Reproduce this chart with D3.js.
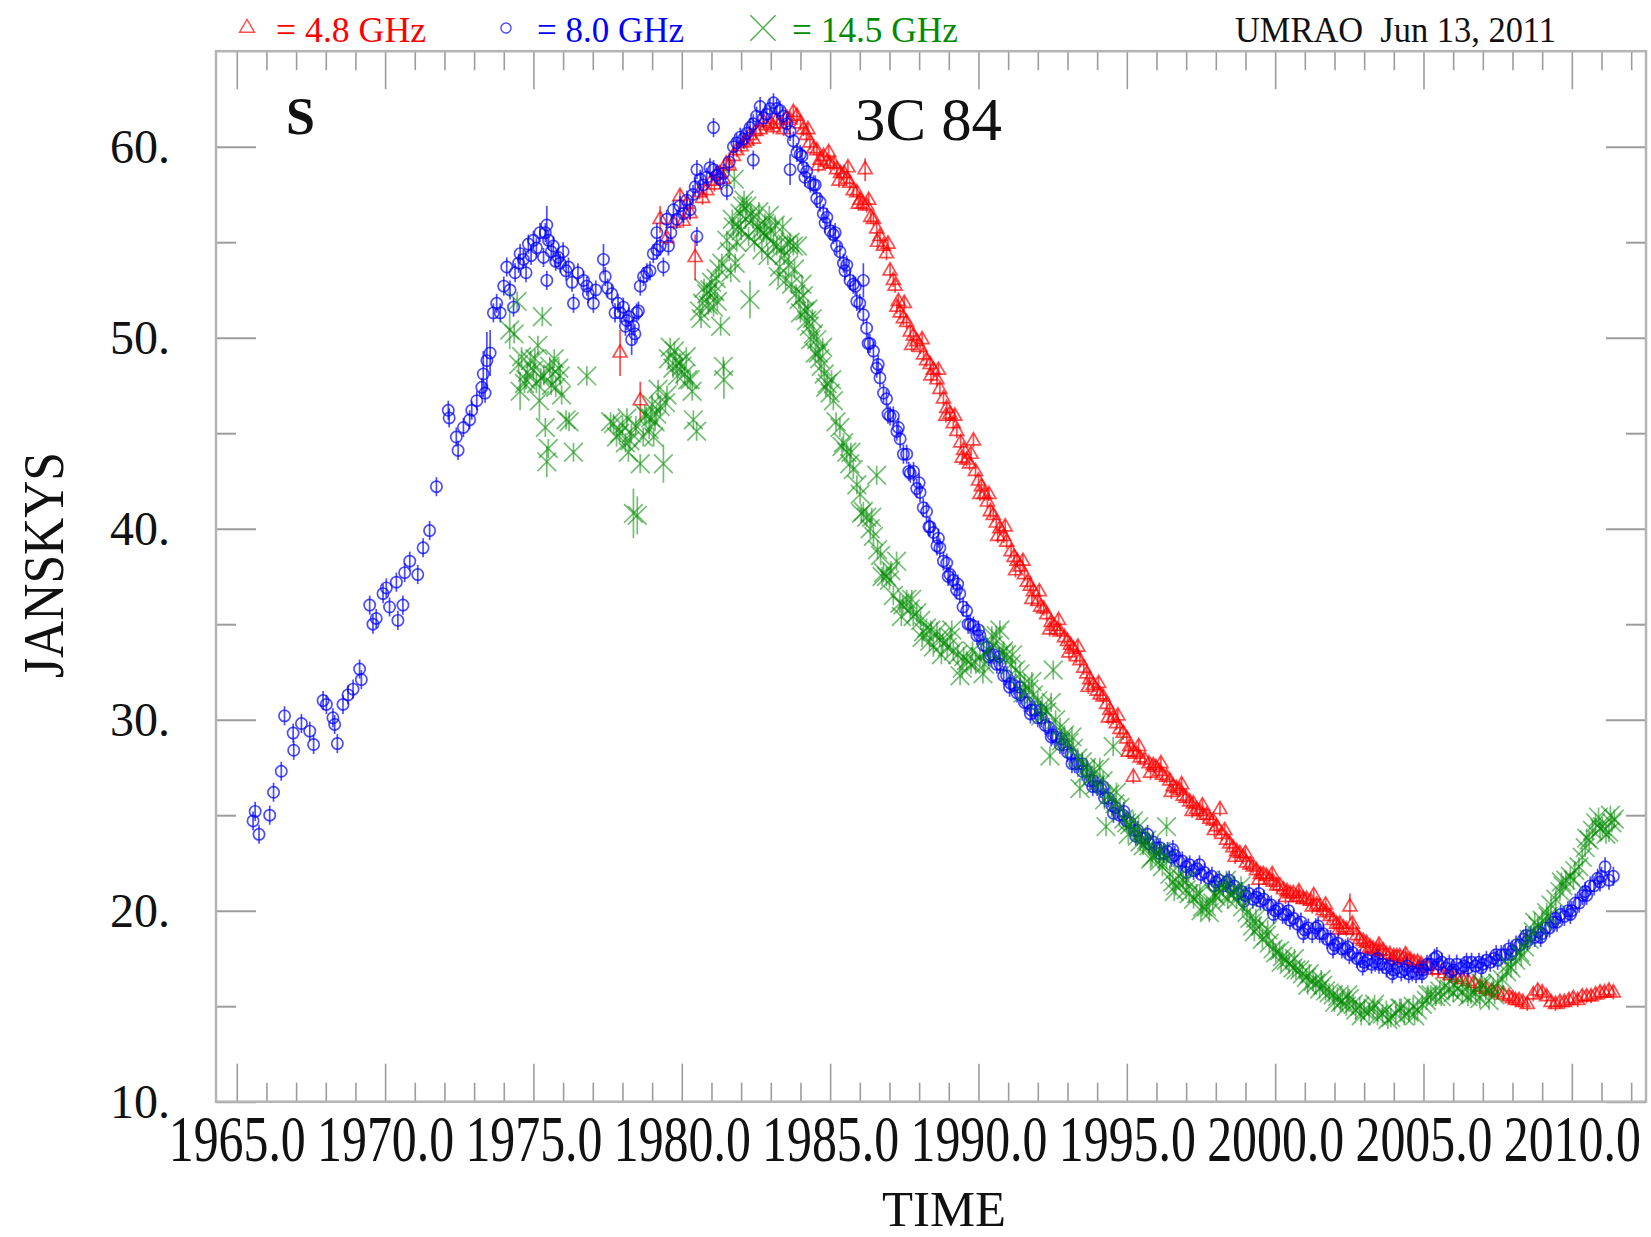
<!DOCTYPE html>
<html>
<head>
<meta charset="utf-8">
<script src="https://cdn.jsdelivr.net/npm/d3@7"></script>
<style>
  html, body { margin: 0; padding: 0; background: #fff; }
  svg { display: block; }
</style>
</head>
<body>
<svg id="chart" width="1651" height="1237"></svg>
<script>
// 3C 84 total flux density monitoring (UMRAO).
// Each entry: [decimal year, flux density in Jy, optional 1-sigma error in Jy]

// 4.8 GHz
const band48 = [
  [1977.92,49.2,1.2],[1978.6,46.7,1.0],[1979.27,56.2,0.7],[1979.5,55.2],[1979.72,56.0],[1979.94,57.4],
  [1980.05,56.1],[1980.17,57.0],[1980.28,56.5],[1980.45,54.2,1.2],[1980.6,57.6],[1980.7,57.3],[1980.84,57.7],
  [1981.0,58.2],[1981.1,58.0],[1981.2,58.6],[1981.29,58.6],[1981.4,58.3],[1981.5,59.1],[1981.6,59.0],
  [1981.74,59.5],[1981.85,59.8],[1982.0,60.0],[1982.1,60.2],[1982.19,60.3],[1982.3,60.6],[1982.41,60.4],
  [1982.5,60.8],[1982.64,60.9],[1982.75,61.3],[1982.86,61.1],[1983.0,61.2],[1983.09,61.0],[1983.2,61.4],
  [1983.31,61.2],[1983.43,60.9],[1983.54,61.5],[1983.65,61.4],[1983.76,61.8],[1983.88,61.6],[1984.0,61.2],
  [1984.1,60.9],[1984.2,60.6],[1984.32,60.2],[1984.45,59.9],[1984.55,59.8],[1984.66,59.3],[1984.78,59.5],
  [1984.9,59.2],[1985.0,59.1],[1985.13,59.1],[1985.22,58.8],[1985.35,58.6],[1985.47,58.6],[1985.56,58.3],
  [1985.66,58.1],[1985.78,57.7],[1985.9,57.6],[1986.01,57.2],[1986.1,57.0],[1986.18,58.8,0.6],[1986.23,56.9],
  [1986.37,56.3],[1986.46,56.2],[1986.57,55.7],[1986.68,55.3],[1986.8,54.8],[1986.9,54.4],[1987.02,53.5],
  [1987.13,53.0],[1987.19,52.7],[1987.3,51.9],[1987.36,51.3],[1987.47,51.0],[1987.58,50.8],[1987.7,50.3],
  [1987.81,50.1],[1987.92,49.8],[1988.03,49.5],[1988.15,49.1],[1988.25,48.8],[1988.37,48.6],[1988.48,48.3],
  [1988.6,47.8],[1988.7,47.3],[1988.82,46.8],[1988.93,46.3],[1989.04,46.0],[1989.15,45.5],[1989.27,45.1],
  [1989.4,44.5],[1989.5,44.1],[1989.6,43.6],[1989.7,43.4],[1989.83,44.6],[1989.9,43.0],[1990.0,42.5],
  [1990.1,42.2],[1990.2,41.8],[1990.3,41.4],[1990.4,40.9],[1990.5,40.7],[1990.6,40.3],[1990.72,40.0],
  [1990.85,39.6],[1990.95,39.3],[1991.1,38.8],[1991.2,38.5],[1991.3,38.3],[1991.4,38.0],[1991.55,37.6],
  [1991.65,37.2],[1991.75,37.0],[1991.85,36.7],[1992.0,36.2],[1992.1,35.9],[1992.2,35.8],[1992.3,35.5],
  [1992.45,35.1],[1992.55,34.9],[1992.65,34.7],[1992.75,34.6],[1992.9,34.3],[1993.0,34.1],[1993.1,33.9],
  [1993.2,33.7],[1993.3,33.3],[1993.42,33.1],[1993.55,32.7],[1993.65,32.4],[1993.75,32.1],[1993.87,31.8],
  [1994.0,31.5],[1994.1,31.3],[1994.2,31.2],[1994.32,30.8],[1994.43,30.5],[1994.54,30.1],[1994.65,29.8],
  [1994.77,29.5],[1994.88,29.3],[1995.0,29.0],[1995.1,28.6],[1995.22,28.3],[1995.22,27.0],[1995.33,28.2],
  [1995.45,28.0],[1995.6,27.9],[1995.75,27.7],[1995.89,27.6],[1995.98,27.5],[1996.1,27.3],[1996.2,27.1],
  [1996.34,27.0],[1996.45,26.8],[1996.56,26.5],[1996.68,26.4],[1996.79,26.3],[1996.9,26.0],[1997.0,25.9],
  [1997.12,25.7],[1997.24,25.6],[1997.35,25.3],[1997.46,25.2],[1997.58,25.0],[1997.69,25.0],[1997.8,24.8],
  [1997.91,24.7],[1998.03,24.4],[1998.14,25.3],[1998.2,24.0],[1998.36,23.7],[1998.47,23.5],[1998.58,23.3],
  [1998.7,23.1],[1998.81,23.0],[1998.92,22.8],[1999.03,22.5],[1999.15,22.4],[1999.26,22.3],[1999.37,22.1],
  [1999.5,21.9],[1999.6,21.9],[1999.71,21.8],[1999.82,21.6],[1999.93,21.5],[2000.05,21.3],[2000.16,21.3],
  [2000.28,21.1],[2000.4,21.0],[2000.5,20.9],[2000.61,20.9],[2000.72,20.7],[2000.83,20.7],[2000.95,20.6],
  [2001.06,20.6],[2001.2,20.5],[2001.3,20.8],[2001.4,20.3],[2001.51,20.2],[2001.62,20.0],[2001.73,19.9],
  [2001.85,19.7],[2001.96,19.5],[2002.07,19.3],[2002.18,19.3],[2002.3,19.1],[2002.4,19.0],[2002.52,20.2,0.7],
  [2002.63,19.0],[2002.75,18.7],[2002.85,18.5],[2002.97,18.4],[2003.08,18.3],[2003.2,18.1],[2003.3,18.0],
  [2003.42,17.9],[2003.53,17.9],[2003.64,17.9],[2003.75,17.7],[2003.87,17.7],[2004.0,17.6],[2004.1,17.6],
  [2004.2,17.6],[2004.33,17.5],[2004.45,17.4],[2004.56,17.4],[2004.68,17.3],[2004.8,17.3],[2004.92,17.2],
  [2005.1,17.1],[2005.3,16.9],[2005.5,16.9],[2005.7,16.7],[2005.9,16.6],[2006.1,16.5],[2006.3,16.4],
  [2006.5,16.3],[2006.7,16.2],[2006.9,16.0],[2007.1,15.9],[2007.3,15.8],[2007.5,15.7],[2007.7,15.6],
  [2007.88,15.5],[2008.0,15.4],[2008.1,15.3],[2008.22,15.3],[2008.35,15.2],[2008.5,15.1],[2008.7,15.6],
  [2008.85,15.8],[2009.0,15.7],[2009.15,15.5],[2009.3,15.2],[2009.45,15.1],[2009.6,15.2],[2009.75,15.2],
  [2009.9,15.3],[2010.05,15.4],[2010.2,15.3],[2010.35,15.5],[2010.5,15.5],[2010.65,15.5],[2010.8,15.6],
  [2010.95,15.7],[2011.1,15.7],[2011.25,15.8],[2011.4,15.7],
  // spread of the 1984-2005 decline
  [1984.25,60.9],[1984.6,59.0],[1984.95,59.7],[1985.3,58.2],[1985.6,58.9],[1985.95,57.0],[1986.3,57.2],
  [1986.6,55.0],[1986.95,54.9],[1987.25,51.6],[1987.5,51.8],[1987.75,49.6],[1988.1,49.9],[1988.4,48.0],
  [1988.65,48.3],[1988.9,45.9],[1989.2,45.9],[1989.45,43.7],[1989.75,43.9],[1990.05,41.8],[1990.35,41.8],
  [1990.65,39.6],[1990.9,40.1],[1991.25,37.8],[1991.5,38.3],[1991.8,36.3],[1992.05,36.7],[1992.4,34.7],
  [1992.7,35.2],[1993.05,33.5],[1993.35,33.8],[1993.7,31.7],[1994.05,31.9],[1994.38,30.1],[1994.7,30.2],
  [1995.05,28.3],[1995.4,28.6],[1995.8,27.2],[1996.15,27.7],[1996.5,26.2],[1996.85,26.6],[1997.2,25.2],
  [1997.55,25.5],[1997.95,24.2],[1998.3,24.2],[1998.65,22.8],[1999.0,23.0],[1999.45,21.6],[1999.9,21.9],
  [2000.35,20.7],[2000.8,21.0],[2001.25,20.2],[2001.7,20.3],[2002.15,19.0],[2002.6,19.3],[2003.05,18.0],
  [2003.5,18.2],[2003.95,17.4],[2004.4,17.7],[2004.85,17.0]
];

// 8.0 GHz
const band80 = [
  [1965.55,24.7],[1965.62,25.2],[1965.75,24.0],[1966.11,25.0],[1966.24,26.2],[1966.5,27.3],[1966.61,30.2],
  [1966.9,29.3],[1966.92,28.4],[1967.18,29.8],[1967.46,29.4],[1967.59,28.7],[1967.91,31.0],[1968.02,30.8],
  [1968.24,30.1],[1968.3,29.75],[1968.39,28.75],[1968.58,30.8],[1968.75,31.3],[1968.92,31.6],[1969.14,32.65],
  [1969.2,32.1],[1969.48,36.0],[1969.59,35.0],[1969.7,35.3],[1969.93,36.6],[1970.04,36.9],[1970.15,35.9],
  [1970.38,37.2],[1970.43,35.2],[1970.6,36.0],[1970.66,37.7],[1970.83,38.3],[1971.1,37.6],[1971.28,39.0],
  [1971.5,39.9],[1971.73,42.2],[1972.13,46.2],[1972.16,45.8],[1972.4,44.8],[1972.46,44.1],[1972.64,45.3],
  [1972.85,45.7],[1972.92,46.2],[1973.09,46.7],[1973.26,47.4],[1973.31,48.1,1.2],[1973.37,47.1],
  [1973.43,48.8,1.5],[1973.54,49.2,1.2],[1973.65,51.3],[1973.76,51.8],[1973.88,51.3],[1974.0,52.7],
  [1974.1,53.7],[1974.21,52.5],[1974.33,51.6],[1974.38,53.4],[1974.5,53.9],[1974.55,54.4],[1974.66,54.1],
  [1974.75,53.4],[1974.83,54.9],[1974.92,54.3],[1975.0,55.1],[1975.1,54.7],[1975.22,55.5],[1975.34,54.2],
  [1975.4,55.5],[1975.45,55.9,1.0],[1975.45,53.0],[1975.51,55.1],[1975.6,54.5],[1975.67,54.8],[1975.75,54.0],
  [1975.84,54.2],[1975.9,53.9],[1976.0,54.5],[1976.1,53.5],[1976.18,53.7],[1976.3,52.9],[1976.35,51.8],
  [1976.5,53.4],[1976.69,53.0],[1976.8,52.7],[1976.85,52.3],[1977.02,51.8],[1977.1,52.5],[1977.36,54.1,0.8],
  [1977.42,53.2],[1977.5,52.6],[1977.64,52.3],[1977.75,51.3],[1977.85,51.8],[1977.92,51.3],[1978.03,51.6],
  [1978.1,50.6],[1978.15,50.9],[1978.22,51.1],[1978.31,49.9,0.8],[1978.37,50.6],[1978.42,50.2],[1978.48,51.3],
  [1978.54,51.4],[1978.6,52.7],[1978.71,53.2],[1978.82,53.4],[1978.93,53.5],[1979.04,54.4],[1979.16,55.5],
  [1979.16,54.6],[1979.27,54.8],[1979.38,53.7],[1979.49,56.2],[1979.55,54.8],[1979.63,55.5],[1979.72,56.7],
  [1979.83,56.2],[1979.94,56.9],[1980.06,56.5],[1980.17,57.2],[1980.28,56.7],[1980.38,57.5],[1980.45,57.9],
  [1980.51,55.3],[1980.51,58.8],[1980.62,58.3],[1980.72,58.0],[1980.84,58.4],[1980.95,58.9],[1981.07,58.8],
  [1981.07,61.0],[1981.18,58.5],[1981.29,58.3],[1981.4,58.6],[1981.52,57.7],[1981.6,59.2],[1981.74,60.0],
  [1981.85,60.2],[1981.97,60.5],[1982.08,60.4],[1982.19,60.7],[1982.3,61.0],[1982.41,61.2],[1982.41,59.3],
  [1982.52,61.6],[1982.64,62.1],[1982.75,61.5],[1982.86,61.7],[1982.97,62.0],[1983.09,62.3],[1983.2,62.0],
  [1983.31,61.9],[1983.42,61.6],[1983.54,61.2],[1983.65,60.8],[1983.65,58.8,0.8],[1983.76,60.3],
  [1983.88,59.7],[1983.99,59.6],[1984.1,58.9],[1984.21,58.7],[1984.33,58.1],[1984.44,58.0],[1984.55,57.3],
  [1984.66,57.1],[1984.77,56.5],[1984.89,56.3],[1985.0,55.6],[1985.11,55.4],[1985.22,54.8],[1985.33,54.5],
  [1985.45,53.9],[1985.56,53.8],[1985.67,53.0],[1985.78,52.8],[1985.9,51.9],[1986.0,51.8],[1986.12,53.0,0.9],
  [1986.12,51.2],[1986.23,50.5],[1986.34,49.7],[1986.46,49.3],[1986.57,48.4],[1986.68,47.9],[1986.8,47.1],
  [1986.9,46.8],[1987.02,45.9],[1987.13,45.9],[1987.25,45.1],[1987.36,44.7],[1987.47,43.9],[1987.58,43.9],
  [1987.7,42.9],[1987.81,43.0],[1987.92,42.1],[1988.03,41.9],[1988.14,41.1],[1988.25,40.9],[1988.37,40.1],
  [1988.48,39.8],[1988.6,39.1],[1988.7,39.0],[1988.82,38.3],[1988.93,38.2],[1989.04,37.6],[1989.15,37.3],
  [1989.26,36.8],[1989.37,36.6],[1989.48,35.9],[1989.6,35.7],[1989.72,35.0],[1989.83,34.9],[1989.95,34.4],
  [1990.05,34.4],[1990.17,33.9],[1990.28,33.8],[1990.4,33.4],[1990.5,33.4],[1990.62,32.9],[1990.73,32.9],
  [1990.85,32.3],[1990.95,32.3],[1991.08,31.9],[1991.2,31.8],[1991.3,31.4],[1991.42,31.3],[1991.55,30.9],
  [1991.65,30.9],[1991.78,30.5],[1991.9,30.5],[1992.0,30.1],[1992.12,30.1],[1992.25,29.7],[1992.37,29.6],
  [1992.5,29.2],[1992.62,29.1],[1992.75,28.7],[1992.87,28.7],[1993.0,28.3],[1993.12,28.2],[1993.25,27.7],
  [1993.37,27.7],[1993.5,27.3],[1993.64,27.3],[1993.76,26.8],[1993.88,26.8],[1994.0,26.5],[1994.12,26.4],
  [1994.25,25.9],[1994.37,25.9],[1994.5,25.5],[1994.62,25.4],[1994.75,25.0],[1994.87,25.0],[1994.99,24.7],
  [1995.12,24.6],[1995.25,24.2],[1995.37,24.2],[1995.5,23.8],[1995.62,23.8],[1995.75,23.5],[1995.89,23.6],
  [1996.0,23.3],[1996.12,23.3],[1996.25,23.0],[1996.37,23.1],[1996.5,22.8],[1996.62,22.9],[1996.75,22.6],
  [1996.87,22.6],[1997.0,22.3],[1997.12,22.4],[1997.25,22.1],[1997.37,22.2],[1997.5,21.9],[1997.62,22.0],
  [1997.75,21.7],[1997.87,21.8],[1998.0,21.5],[1998.12,21.6],[1998.25,21.3],[1998.37,21.5],[1998.5,21.2],
  [1998.62,21.3],[1998.75,20.9],[1998.87,21.0],[1999.0,20.8],[1999.12,20.9],[1999.25,20.6],[1999.37,20.7],
  [1999.5,20.5],[1999.62,20.6],[1999.75,20.3],[1999.87,20.3],[2000.0,20.0],[2000.12,20.1],[2000.25,19.8],
  [2000.37,19.8],[2000.5,19.5],[2000.62,19.6],[2000.75,19.3],[2000.87,19.4],[2001.0,19.0],[2001.12,19.1],
  [2001.25,18.8],[2001.37,19.1],[2001.5,18.8],[2001.62,18.8],[2001.75,18.5],[2001.87,18.5],[2002.0,18.2],
  [2002.12,18.3],[2002.25,18.0],[2002.37,18.0],[2002.5,17.7],[2002.62,17.8],[2002.75,17.5],[2002.87,17.5],
  [2003.0,17.3],[2003.12,17.4],[2003.25,17.2],[2003.37,17.3],[2003.5,17.2],[2003.62,17.2],[2003.75,17.0],
  [2003.87,17.1],[2004.0,16.9],[2004.12,17.0],[2004.25,16.8],[2004.37,16.9],[2004.5,16.7],[2004.62,16.8],
  [2004.75,16.7],[2004.87,16.9],[2005.0,16.9],[2005.12,17.2],[2005.25,17.2],[2005.37,17.5],[2005.5,17.2],
  [2005.62,17.3],[2005.75,17.0],[2005.87,17.2],[2006.0,16.9],[2006.12,17.2],[2006.25,17.0],[2006.37,17.1],
  [2006.5,17.0],[2006.62,17.3],[2006.75,17.1],[2006.87,17.3],[2007.0,17.2],[2007.12,17.4],[2007.25,17.3],
  [2007.37,17.5],[2007.5,17.4],[2007.62,17.7],[2007.75,17.7],[2007.87,18.0],[2008.0,17.9],[2008.12,18.2],
  [2008.25,18.2],[2008.37,18.5],[2008.5,18.4],[2008.62,18.7],[2008.75,18.6],[2008.87,18.9],[2009.0,18.8],
  [2009.12,19.1],[2009.25,19.1],[2009.37,19.4],[2009.5,19.4],[2009.62,19.8],[2009.75,19.7],[2009.87,20.0],
  [2010.0,20.0],[2010.12,20.4],[2010.25,20.4],[2010.37,20.8],[2010.5,20.8],[2010.62,21.3],[2010.75,21.3],
  [2010.87,21.7],[2011.0,21.8],[2011.12,22.3],[2011.25,21.6],[2011.4,21.8],
  // spread of the 1984-2011 decline and recovery
  [1984.05,59.5],[1984.15,58.4],[1984.5,58.0],[1984.83,56.0],[1985.17,55.5],[1985.5,53.5],[1985.85,52.7],
  [1986.28,49.7],[1986.62,48.6],[1986.95,46.0],[1987.3,45.3],[1987.65,43.0],[1988.0,42.4],[1988.33,40.1],
  [1988.65,39.5],[1988.98,37.5],[1989.3,37.1],[1989.65,35.0],[1990.0,34.7],[1990.35,33.3],[1990.7,33.3],
  [1991.05,31.7],[1991.4,31.7],[1991.75,30.3],[1992.1,30.5],[1992.45,29.1],[1992.8,29.0],[1993.15,27.7],
  [1993.5,27.7],[1993.85,26.5],[1994.2,26.5],[1994.55,25.1],[1994.9,25.2],[1995.3,23.9],[1995.7,24.0],
  [1996.1,23.0],[1996.55,23.2],[1997.0,22.0],[1997.45,22.4],[1997.95,21.3],[1998.45,21.6],[1998.95,20.5],
  [1999.45,20.9],[1999.95,19.8],[2000.45,20.0],[2000.95,18.8],[2001.45,19.2],[2001.95,18.0],[2002.45,18.1],
  [2002.95,17.1],[2003.45,17.5],[2003.95,16.7],[2004.45,17.1],[2004.95,16.7],[2005.45,17.6],[2005.95,16.8],
  [2006.45,17.3],[2006.95,17.0],[2007.45,17.7],[2007.95,17.7],[2008.45,18.7],[2008.95,18.6],[2009.45,19.6],
  [2009.95,19.8],[2010.45,21.0],[2010.95,21.5]
];

// 14.5 GHz
const band145 = [
  [1974.2,50.4,1.0],[1974.35,50.2],[1974.45,51.9],[1974.5,48.6],[1974.55,47.2,1.0],[1974.6,49.0],[1974.7,47.6],
  [1974.75,47.8],[1974.8,48.2],[1974.9,48.8],[1975.0,48.3],[1975.05,48.9],[1975.1,47.6],[1975.15,49.6],
  [1975.2,46.7,1.0],[1975.25,47.9],[1975.3,51.1],[1975.35,48.0],[1975.4,45.3],[1975.45,43.5,0.8],[1975.5,44.2],
  [1975.55,48.5],[1975.6,47.5],[1975.65,48.1],[1975.7,48.9],[1975.75,47.4],[1975.85,48.4],[1975.9,48.0],
  [1975.95,47.0],[1976.1,45.7],[1976.2,45.6],[1976.35,44.0],[1976.8,48.0],[1977.6,45.6],[1977.7,45.5],
  [1977.8,44.8],[1977.9,45.0],[1978.0,45.4],[1978.1,44.5],[1978.15,45.8],[1978.2,44.0],[1978.25,44.6],
  [1978.3,45.0],[1978.37,40.8,1.3],[1978.45,45.4],[1978.5,40.7,1.0],[1978.6,43.4],[1978.7,44.8],[1978.75,46.0],
  [1978.8,45.9],[1978.9,45.2],[1978.95,45.8],[1979.0,46.5],[1979.05,44.8],[1979.1,45.6],[1979.15,46.0],
  [1979.2,47.3],[1979.27,46.4],[1979.38,43.4,1.0],[1979.45,46.6],[1979.5,47.0],[1979.55,48.9],[1979.61,49.5],
  [1979.7,48.4],[1979.75,49.3],[1979.8,48.8],[1979.85,48.0],[1979.94,48.7],[1980.0,48.5],[1980.1,48.1],
  [1980.15,49.0],[1980.2,47.8],[1980.28,47.8],[1980.35,47.2],[1980.39,45.7],[1980.5,45.1],[1980.6,51.4],
  [1980.65,51.0],[1980.7,51.8],[1980.75,52.6],[1980.84,52.3],[1980.9,51.7],[1980.95,52.5],[1981.0,52.9],
  [1981.07,51.6],[1981.12,52.4],[1981.16,53.1],[1981.2,51.9],[1981.25,53.6],[1981.31,50.6],[1981.35,53.9],
  [1981.4,48.5],[1981.42,47.8,1.0],[1981.52,55.1],[1981.6,54.5],[1981.65,53.4],[1981.7,56.2],[1981.74,55.8],
  [1981.77,58.3],[1981.8,53.9],[1981.85,55.0],[1981.9,55.8],[1981.97,56.5],[1982.0,55.6],[1982.05,56.9],
  [1982.1,57.2],[1982.15,56.2],[1982.19,56.9],[1982.25,55.3],[1982.3,52.0,1.0],[1982.33,56.5],[1982.4,56.2],
  [1982.45,55.0],[1982.55,55.8],[1982.6,56.6],[1982.64,55.6],[1982.7,54.6],[1982.76,55.5],[1982.8,56.0],
  [1982.86,55.3],[1982.9,54.3],[1982.95,56.4],[1983.0,55.6],[1983.09,54.9],[1983.15,55.9],[1983.2,54.8],
  [1983.25,53.2],[1983.3,53.7],[1983.35,54.7],[1983.4,55.8],[1983.45,54.3],[1983.5,53.0],[1983.56,54.9],
  [1983.6,53.8],[1983.65,55.0],[1983.7,52.8],[1983.76,54.8],[1983.8,53.6],[1983.85,52.3],[1983.9,54.8],
  [1983.95,52.0],[1984.0,51.3],[1984.05,52.8],[1984.1,52.2],[1984.15,51.4],[1984.21,50.9],[1984.25,51.5],
  [1984.3,50.6],[1984.35,49.9],[1984.4,51.0],[1984.44,50.2],[1984.5,49.2],[1984.55,49.9],[1984.6,49.2],
  [1984.65,48.9],[1984.7,48.5],[1984.75,49.5],[1984.8,48.1],[1984.85,47.4],[1984.9,47.6],[1985.0,47.1],
  [1985.11,46.7],[1985.2,45.6],[1985.33,45.3],[1985.45,44.5],[1985.56,44.0],[1985.66,43.4],[1985.78,43.1],
  [1985.9,42.3],[1986.01,41.8],[1986.12,40.9],[1986.23,40.6],[1986.35,40.0],[1986.46,39.6],[1986.57,42.8],
  [1986.6,38.9],[1986.7,38.6],[1986.8,37.7],[1986.9,37.5],[1987.0,37.3],[1987.13,36.5],[1987.24,38.3],
  [1987.35,36.1],[1987.45,36.0],[1987.58,36.3],[1987.7,35.8],[1987.8,35.4],[1987.92,35.6],[1988.05,35.2],
  [1988.15,34.6],[1988.25,34.8],[1988.35,34.1],[1988.48,33.8],[1988.6,34.6],[1988.7,34.3],[1988.8,34.0],
  [1988.95,33.8],[1989.05,34.3],[1989.15,33.6],[1989.3,33.4],[1989.38,32.3],[1989.5,33.3],[1989.6,33.1],
  [1989.75,32.9],[1989.9,33.0],[1990.05,33.3],[1990.2,32.9],[1990.35,33.6],[1990.5,33.9],[1990.6,34.4],
  [1990.72,34.7],[1990.85,33.6],[1990.95,33.4],[1991.1,32.9],[1991.25,32.6],[1991.4,32.4],[1991.55,31.9],
  [1991.7,31.6],[1991.85,31.3],[1992.0,31.0],[1992.15,30.7],[1992.3,30.4],[1992.41,28.1],[1992.52,32.6],
  [1992.6,30.0],[1992.75,29.6],[1992.9,29.2],[1993.05,28.8],[1993.2,28.5],[1993.35,28.0],[1993.42,26.4],
  [1993.5,27.8],[1993.64,27.5],[1993.8,27.0],[1993.95,26.6],[1994.09,27.5],[1994.2,26.8],[1994.3,24.4],
  [1994.43,26.1],[1994.54,28.6],[1994.6,25.6],[1994.77,25.4],[1994.9,24.8],[1995.0,24.6],[1995.1,24.5],
  [1995.22,24.7],[1995.35,23.9],[1995.45,23.6],[1995.55,23.4],[1995.67,23.7],[1995.75,23.4],[1995.85,22.8],
  [1995.98,23.0],[1996.1,22.6],[1996.2,22.3],[1996.34,22.7],[1996.34,24.4],[1996.45,21.9],[1996.55,21.5],
  [1996.65,21.3],[1996.75,21.8],[1996.9,21.6],[1997.0,21.1],[1997.1,20.9],[1997.25,20.6],[1997.35,20.9],
  [1997.46,20.9],[1997.55,20.2],[1997.69,20.2],[1997.78,19.9],[1997.9,20.4],[1998.0,20.75],[1998.12,21.0],
  [1998.25,21.2],[1998.36,21.6],[1998.45,20.9],[1998.6,21.0],[1998.7,20.6],[1998.81,20.9],[1998.9,20.2],
  [1999.05,19.9],[1999.15,19.6],[1999.24,19.2],[1999.35,19.6],[1999.48,19.2],[1999.57,18.5],[1999.7,18.7],
  [1999.8,18.3],[1999.93,18.0],[2000.02,17.8],[2000.15,17.9],[2000.25,17.6],[2000.38,17.4],[2000.47,17.2],
  [2000.6,17.0],[2000.7,16.9],[2000.83,16.9],[2000.92,16.7],[2001.05,16.5],[2001.15,16.7],[2001.28,16.3],
  [2001.37,16.2],[2001.5,15.9],[2001.6,16.1],[2001.7,15.8],[2001.82,15.7],[2001.96,15.6],[2002.1,15.5],
  [2002.2,15.2],[2002.27,15.3],[2002.4,15.0],[2002.5,15.4],[2002.63,15.1],[2002.72,14.8],[2002.85,15.0],
  [2003.0,14.8],[2003.17,14.7],[2003.3,14.9],[2003.45,14.5],[2003.62,14.6],[2003.75,14.8],[2003.9,14.4],
  [2004.07,14.6],[2004.2,14.9],[2004.35,14.5],[2004.51,14.7],[2004.65,15.0],[2004.8,14.8],[2004.96,15.1],
  [2005.1,15.3],[2005.25,15.6],[2005.41,15.5],[2005.55,15.8],[2005.7,16.0],[2005.86,15.9],[2006.0,15.7],
  [2006.15,15.9],[2006.31,15.7],[2006.45,16.0],[2006.6,15.6],[2006.76,15.7],[2006.9,15.4],[2006.99,16.1],
  [2007.1,15.8],[2007.21,15.3],[2007.35,16.0],[2007.5,16.2],[2007.66,16.4],[2007.8,16.8],[2007.95,17.0],
  [2008.11,17.4],[2008.25,17.8],[2008.4,18.1],[2008.56,18.5],[2008.7,18.9],[2008.85,19.2],[2009.0,19.5],
  [2009.15,19.9],[2009.3,20.3],[2009.46,20.6],[2009.6,21.0],[2009.7,21.3],[2009.8,21.6],[2009.95,21.8],
  [2010.1,22.1],[2010.24,22.3],[2010.35,22.8],[2010.45,23.3],[2010.58,23.7],[2010.7,24.2],[2010.8,24.6],
  [2010.9,24.9],[2011.03,24.4],[2011.15,24.0],[2011.25,24.1],[2011.35,24.6],[2011.43,24.8],
  // spread of the 1985-2011 decline and recovery
  [1985.05,47.8],[1985.4,44.3],[1985.7,44.0],[1986.05,40.8],[1986.4,40.6],[1986.75,37.5],[1987.05,37.8],
  [1987.4,35.4],[1987.75,36.3],[1988.1,34.3],[1988.4,34.7],[1988.75,33.4],[1989.1,34.7],[1989.45,32.7],
  [1989.8,33.6],[1990.15,32.4],[1990.45,34.4],[1990.8,33.5],[1991.15,33.4],[1991.5,31.4],[1991.8,32.0],
  [1992.1,30.2],[1992.45,30.9],[1992.8,28.9],[1993.15,29.1],[1993.55,27.1],[1993.9,27.4],[1994.25,25.8],
  [1994.65,26.2],[1995.05,24.0],[1995.4,24.4],[1995.8,22.7],[1996.15,23.1],[1996.6,21.0],[1997.05,21.6],
  [1997.5,20.0],[1997.95,20.9],[1998.4,20.6],[1998.85,21.3],[1999.3,18.9],[1999.75,19.0],[2000.2,17.3],
  [2000.65,17.5],[2001.1,16.1],[2001.55,16.4],[2002.0,15.2],[2002.45,15.6],[2002.9,14.5],[2003.35,15.1],
  [2003.8,14.3],[2004.25,14.9],[2004.7,14.5],[2005.15,15.6],[2005.6,15.5],[2006.05,16.1],[2006.5,15.5],
  [2006.95,16.2],[2007.4,15.6],[2007.85,17.2],[2008.3,17.6],[2008.75,19.4],[2009.2,19.7],[2009.65,21.5],
  [2010.05,21.6],[2010.5,23.8],[2010.95,24.3],[2011.3,25.0]
];

// typical per-point error when none is listed
const typicalErr = { band48: 0.35, band80: 0.5, band145: 0.5 };

const xMajorTicks = [1965, 1970, 1975, 1980, 1985, 1990, 1995, 2000, 2005, 2010];
const xMinorTicks = d3.range(1965, 2013).filter(v => v % 5 !== 0);
const yMajorTicks = [10, 20, 30, 40, 50, 60];
const yMinorTicks = [15, 25, 35, 45, 55];

const legendItems = [
  { label: '= 4.8 GHz', key: 'band48', color: '#ff0000' },
  { label: '= 8.0 GHz', key: 'band80', color: '#0000ff' },
  { label: '= 14.5 GHz', key: 'band145', color: '#008a00' }
];

// ---------------------------------------------------------------
const svg = d3.select('#chart');
const SERIF = "'Liberation Serif', 'Times New Roman', 'DejaVu Serif', serif";
const frame = { left: 216, right: 1646, top: 51.2, bottom: 1101.7 };

const x = d3.scaleLinear().domain([1964.3, 2012.5]).range([frame.left, frame.right]);
const y = d3.scaleLinear().domain([10, 65]).range([frame.bottom, frame.top]);

svg.append('rect').attr('width', 1651).attr('height', 1237).attr('fill', '#fff');

const tickColor = '#9c9c9c';
function styleAxis(g, width) {
  g.select('.domain').remove();
  g.attr('color', tickColor);
  g.selectAll('.tick line').attr('stroke-width', width);
}

// bottom axis: yearly minor ticks, major every 5 years with labels
svg.append('g').attr('transform', `translate(0,${frame.bottom})`)
  .call(d3.axisBottom(x).tickValues(xMinorTicks).tickSize(-19).tickSizeOuter(0).tickFormat(''))
  .call(g => styleAxis(g, 1.6));
const gxb = svg.append('g').attr('transform', `translate(0,${frame.bottom})`)
  .call(d3.axisBottom(x).tickValues(xMajorTicks).tickSize(-38).tickSizeOuter(0)
    .tickPadding(12).tickFormat(d => d.toFixed(1)))
  .call(g => styleAxis(g, 1.6));
// condensed tall digits for the year labels
gxb.selectAll('text')
  .attr('fill', '#111').attr('font-family', SERIF).attr('font-size', 66)
  .attr('transform', 'scale(0.755,1)');

// top axis: ticks only
svg.append('g').attr('transform', `translate(0,${frame.top})`)
  .call(d3.axisTop(x).tickValues(xMinorTicks).tickSize(-19).tickSizeOuter(0).tickFormat(''))
  .call(g => styleAxis(g, 1.6));
svg.append('g').attr('transform', `translate(0,${frame.top})`)
  .call(d3.axisTop(x).tickValues(xMajorTicks).tickSize(-38).tickSizeOuter(0).tickFormat(''))
  .call(g => styleAxis(g, 1.6));

// left axis
svg.append('g').attr('transform', `translate(${frame.left},0)`)
  .call(d3.axisLeft(y).tickValues(yMinorTicks).tickSize(-20).tickSizeOuter(0).tickFormat(''))
  .call(g => styleAxis(g, 2));
const gyl = svg.append('g').attr('transform', `translate(${frame.left},0)`)
  .call(d3.axisLeft(y).tickValues(yMajorTicks).tickSize(-40).tickSizeOuter(0)
    .tickPadding(46).tickFormat(d => d + '.'))
  .call(g => styleAxis(g, 2));
gyl.selectAll('text').attr('fill', '#111').attr('font-family', SERIF).attr('font-size', 48);

// right axis: ticks only
svg.append('g').attr('transform', `translate(${frame.right},0)`)
  .call(d3.axisRight(y).tickValues(yMinorTicks).tickSize(-20).tickSizeOuter(0).tickFormat(''))
  .call(g => styleAxis(g, 2));
svg.append('g').attr('transform', `translate(${frame.right},0)`)
  .call(d3.axisRight(y).tickValues(yMajorTicks).tickSize(-40).tickSizeOuter(0).tickFormat(''))
  .call(g => styleAxis(g, 2));

// plot frame
svg.append('rect')
  .attr('x', frame.left).attr('y', frame.top)
  .attr('width', frame.right - frame.left).attr('height', frame.bottom - frame.top)
  .attr('fill', 'none').attr('stroke', '#b4b4b4').attr('stroke-width', 2.5);

// ---------------------------------------------------------------
// data markers with vertical error bars
const symbols = {
  band48: d3.symbol(d3.symbolTriangle2, 140),
  band80: d3.symbol(d3.symbolCircle, 100),
  band145: d3.symbol(d3.symbolTimes, 230)
};
const seriesData = { band48, band80, band145 };
const colors = { band48: '#ff0000', band80: '#0000ff', band145: '#008a00' };
const opacity = { band48: 0.7, band80: 0.7, band145: 0.55 };

['band48', 'band80', 'band145'].forEach(key => {
  const g = svg.append('g')
    .attr('fill', 'none')
    .attr('stroke', colors[key])
    .attr('stroke-opacity', opacity[key])
    .attr('stroke-width', 1.7);
  const pts = g.selectAll('g.pt').data(seriesData[key]).join('g')
    .attr('class', 'pt')
    .attr('transform', d => `translate(${x(d[0])},${y(d[1])})`);
  pts.append('line')
    .attr('x1', 0).attr('x2', 0)
    .attr('y1', d => y(d[1] + (d[2] ?? typicalErr[key])) - y(d[1]))
    .attr('y2', d => y(d[1] - (d[2] ?? typicalErr[key])) - y(d[1]));
  pts.append('path').attr('d', symbols[key]());
});

// ---------------------------------------------------------------
// legend across the top
const legendPos = [
  { sx: 247, tx: 276, w: 150, size: 160 },
  { sx: 506, tx: 537, w: 147, size: 80 },
  { sx: 763, tx: 792, w: 166, size: 420 }
];
const legendSym = [d3.symbolTriangle2, d3.symbolCircle, d3.symbolTimes];
legendItems.forEach((item, i) => {
  const p = legendPos[i];
  svg.append('path')
    .attr('transform', `translate(${p.sx},28)`)
    .attr('d', d3.symbol(legendSym[i], p.size)())
    .attr('fill', 'none').attr('stroke', item.color)
    .attr('stroke-opacity', 0.7).attr('stroke-width', 1.4);
  svg.append('text')
    .attr('x', p.tx).attr('y', 42)
    .attr('font-family', SERIF).attr('font-size', 36)
    .attr('fill', item.color)
    .attr('textLength', p.w).attr('lengthAdjust', 'spacingAndGlyphs')
    .text(item.label);
});

svg.append('text')
  .attr('x', 1235).attr('y', 42)
  .attr('font-family', SERIF).attr('font-size', 36).attr('fill', '#111')
  .attr('textLength', 321).attr('lengthAdjust', 'spacingAndGlyphs')
  .attr('xml:space', 'preserve')
  .text('UMRAO  Jun 13, 2011');

// titles inside the frame
svg.append('text')
  .attr('x', 286).attr('y', 133.5)
  .attr('font-family', SERIF).attr('font-size', 52).attr('font-weight', 'bold').attr('fill', '#111')
  .text('S');
svg.append('text')
  .attr('x', 855).attr('y', 140)
  .attr('font-family', SERIF).attr('font-size', 62).attr('fill', '#111')
  .attr('textLength', 147).attr('lengthAdjust', 'spacingAndGlyphs')
  .text('3C 84');

// axis titles
svg.append('text')
  .attr('transform', 'translate(63,565) rotate(-90)')
  .attr('text-anchor', 'middle')
  .attr('font-family', SERIF).attr('font-size', 56).attr('fill', '#111')
  .attr('textLength', 226).attr('lengthAdjust', 'spacingAndGlyphs')
  .text('JANSKYS');
svg.append('text')
  .attr('x', 944).attr('y', 1226)
  .attr('text-anchor', 'middle')
  .attr('font-family', SERIF).attr('font-size', 50).attr('fill', '#111')
  .attr('textLength', 124).attr('lengthAdjust', 'spacingAndGlyphs')
  .text('TIME');
</script>
</body>
</html>
